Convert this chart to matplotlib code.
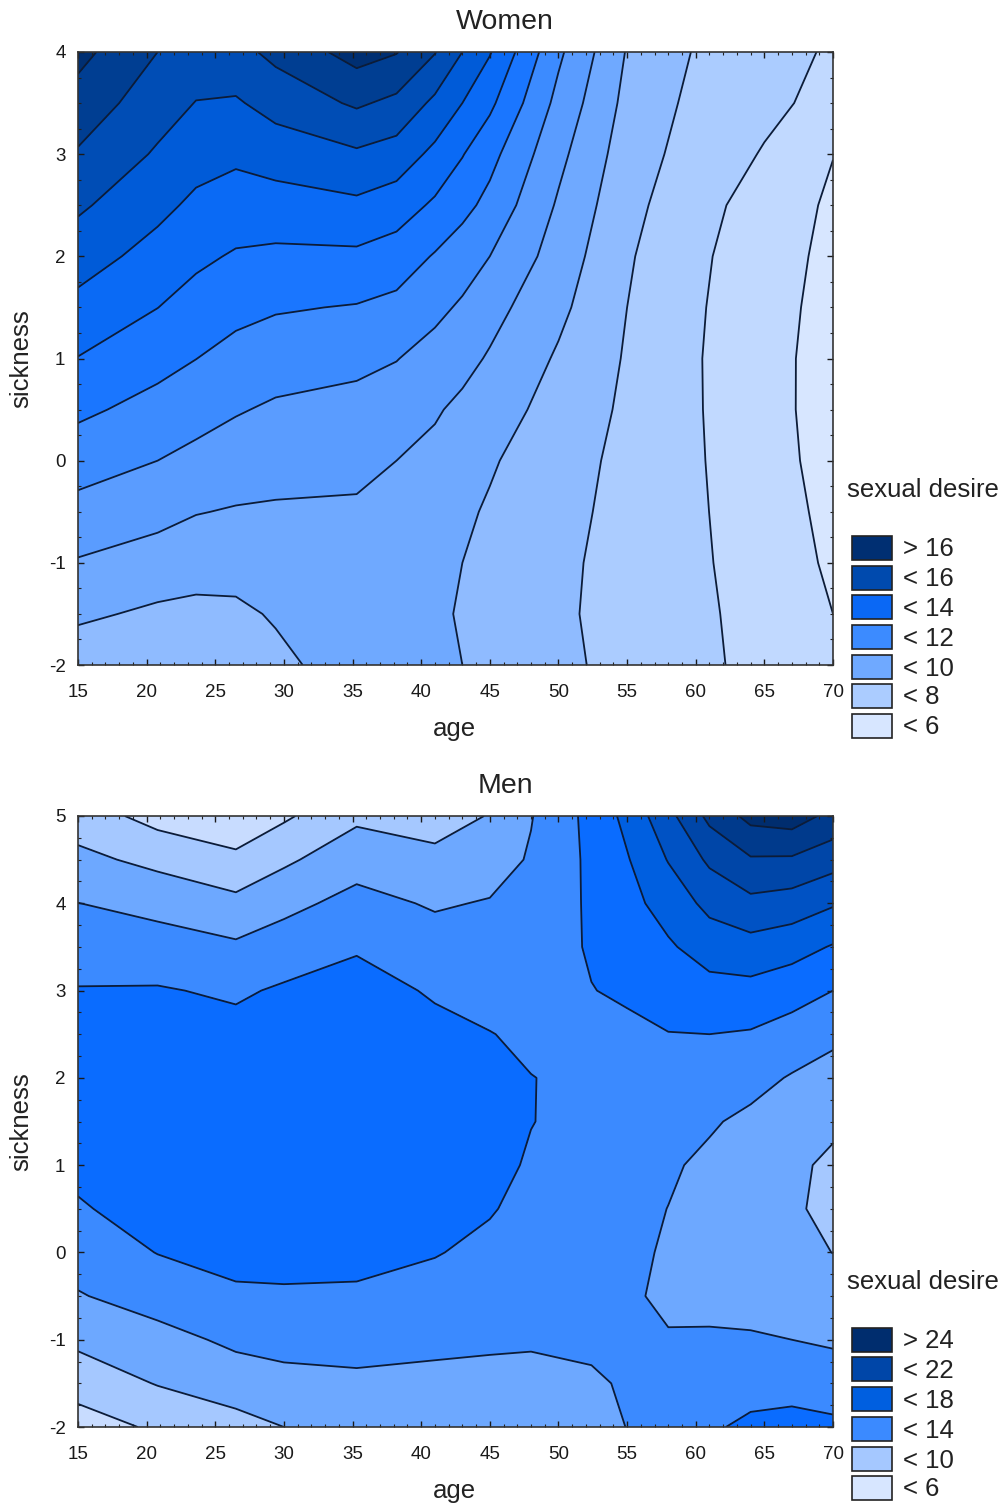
import matplotlib
matplotlib.use("Agg")
import matplotlib.pyplot as plt
import numpy as np
from matplotlib.patches import Rectangle
from matplotlib.ticker import MultipleLocator

plt.rcParams['font.family'] = ['Liberation Sans', 'DejaVu Sans']
plt.rcParams['axes.unicode_minus'] = False

# Women: desire surface (rows follow women_sickness)
women_age = [15, 20.8, 23.6, 26.5, 29.4, 35.3, 38.2, 41, 43, 45, 50, 55, 60, 65, 70]
women_sickness = [-2, -1.5, -1, -0.5, 0, 0.5, 1, 1.5, 2, 2.5, 3, 3.5, 4]
women_desire = [
    [7.4, 7.1, 7.1, 7.2, 7.75, 8.5, 8.5, 8.21, 8.0, 7.79, 7.21, 6.7, 6.23, 5.7, 5.2],
    [8.17, 7.83, 7.75, 7.8, 8.1, 8.55, 8.45, 8.1, 7.95, 7.71, 7.15, 6.66, 6.2, 5.64, 5.0],
    [8.92, 8.57, 8.41, 8.39, 8.5, 8.66, 8.55, 8.2, 8.0, 7.77, 7.19, 6.67, 6.16, 5.54, 4.85],
    [9.68, 9.3, 9.04, 8.93, 8.89, 8.9, 8.75, 8.45, 8.15, 7.9, 7.28, 6.72, 6.13, 5.46, 4.75],
    [10.44, 10.0, 9.73, 9.5, 9.36, 9.19, 9.0, 8.75, 8.45, 8.1, 7.41, 6.75, 6.1, 5.39, 4.64],
    [11.2, 10.66, 10.38, 10.08, 9.86, 9.68, 9.52, 9.1, 8.79, 8.45, 7.63, 6.83, 6.08, 5.32, 4.62],
    [11.97, 11.33, 11.01, 10.67, 10.45, 10.25, 10.03, 9.65, 9.3, 8.9, 7.88, 6.91, 6.07, 5.34, 4.6],
    [12.72, 12.01, 11.61, 11.28, 11.09, 10.94, 10.73, 10.23, 9.87, 9.35, 8.23, 7.0, 6.11, 5.39, 4.66],
    [13.44, 12.64, 12.2, 11.9, 11.8, 11.81, 11.54, 10.92, 10.45, 10.0, 8.56, 7.11, 6.18, 5.45, 4.75],
    [14.16, 13.26, 12.8, 12.54, 12.58, 12.8, 12.49, 11.84, 11.31, 10.7, 8.88, 7.3, 6.34, 5.58, 4.84],
    [14.9, 13.88, 13.38, 13.19, 13.45, 13.85, 13.57, 12.75, 12.05, 11.32, 9.26, 7.5, 6.58, 5.93, 5.02],
    [15.6, 14.44, 13.97, 13.89, 14.37, 15.14, 14.76, 13.78, 13.0, 12.21, 9.71, 7.72, 6.75, 6.23, 5.7],
    [16.3, 15.0, 14.54, 14.68, 15.26, 16.4, 16.05, 15.05, 14.0, 13.07, 10.19, 7.93, 6.93, 6.41, 5.87],
]
women_levels = [5, 6, 7, 8, 9, 10, 11, 12, 13, 14, 15, 16]
women_colors = ['#d7e6ff', '#c1d9ff', '#abccff', '#8fbbff', '#6fa9ff', '#5a9cff', '#3c8bff',
                '#1a76ff', '#0a6af5', '#005bd8', '#004db5', '#003e92', '#002f72']
women_legend_labels = ['> 16', '< 16', '< 14', '< 12', '< 10', '< 8', '< 6']
women_legend_colors = ['#002f72', '#004aae', '#0a68f5', '#3c8bff', '#6fa9ff', '#abccff', '#d7e6ff']

# Men
men_age = [15, 20.8, 26.5, 30, 35.3, 41, 45, 48, 52.4, 55, 58, 61, 64, 67, 70]
men_sickness = [-2, -1.5, -1, -0.5, 0, 0.5, 1, 1.5, 2, 2.5, 3, 3.5, 4, 4.5, 5]
men_desire = [
    [7.1, 8.3, 9.3, 10, 10.9, 11, 11.1, 11.1, 11.6, 12.02, 12.87, 13.7, 14.45, 14.6, 14.4],
    [8.8, 10.1, 10.97, 11.4, 11.65, 11.55, 11.55, 11.6, 11.75, 12.2, 12.8, 12.8, 13.15, 13.33, 13.0],
    [10.43, 11.3, 12.4, 12.65, 12.65, 12.4, 12.24, 12.15, 12.35, 12.6, 12.1, 12.3, 12.25, 12.0, 11.74],
    [11.86, 12.89, 13.8, 13.85, 13.8, 13.3, 12.87, 12.75, 12.5, 12.2, 11.75, 11.3, 11.1, 11.0, 10.87],
    [12.9, 14.05, 14.4, 14.4, 14.4, 14.1, 13.55, 13.2, 12.62, 12.28, 11.86, 11.39, 10.92, 10.45, 9.98],
    [13.88, 14.5, 14.9, 14.9, 14.9, 14.7, 14.14, 13.45, 12.88, 12.47, 11.98, 11.4, 10.84, 10.27, 9.5],
    [14.3, 14.8, 15.2, 15.2, 15.2, 15, 14.6, 13.78, 13.14, 12.72, 12.22, 11.65, 11.03, 10.41, 9.6],
    [14.5, 14.9, 15.25, 15.25, 15.3, 15, 14.6, 14.05, 13.38, 13.03, 12.6, 12.2, 11.6, 11.0, 10.4],
    [14.7, 15, 15.3, 15.3, 15.4, 15, 14.5, 14.03, 13.7, 13.6, 13.47, 13.15, 12.62, 11.85, 11.3],
    [14.5, 14.7, 14.6, 14.9, 15.2, 14.6, 14.05, 13.7, 13.7, 13.6, 13.95, 14.0, 13.83, 13.2, 12.4],
    [14.1, 14.15, 13.72, 14.25, 14.9, 13.75, 13.41, 13.3, 13.95, 14.27, 14.84, 15.33, 15.4, 14.8, 14.0],
    [13.07, 12.86, 12.31, 12.93, 13.77, 12.81, 12.77, 12.9, 14.2, 14.93, 15.75, 16.88, 17.27, 16.78, 15.85],
    [12.02, 11.38, 10.53, 11.47, 12.6, 11.8, 12.13, 12.55, 14.3, 15.37, 16.8, 18.55, 19.5, 19.1, 18.2],
    [10.5, 9.48, 8.43, 9.65, 11.23, 10.5, 11.1, 12.2, 14.4, 15.85, 18.1, 20.35, 21.8, 21.74, 20.8],
    [9.0, 7.3, 6.6, 7.7, 9.6, 9.15, 10.1, 11.9, 14.6, 16.55, 19.4, 22.5, 24.6, 25, 23.4],
]
men_levels = [8, 10, 12, 14, 16, 18, 20, 22, 24]
men_colors = ['#c8dcff', '#a5c8ff', '#6da8ff', '#3b8aff', '#0a6cff', '#005fe0', '#0052c4',
              '#0046a8', '#003a8c', '#002d6e']
men_legend_labels = ['> 24', '< 22', '< 18', '< 14', '< 10', '< 6']
men_legend_colors = ['#002d6e', '#0046a8', '#005fe0', '#3b8aff', '#a5c8ff', '#d7e6ff']

W, H = 1005, 1508
fig = plt.figure(figsize=(W / 100, H / 100), dpi=100)


def draw_panel(title, ages, sick, desire, levels, colors, box, title_y, ymax, leg_labels, leg_colors, leg_ys, leg_title_y):
    left, top, right, bottom = box
    ax = fig.add_axes([left / W, 1 - bottom / H, (right - left) / W, (bottom - top) / H])
    ax.contourf(ages, sick, desire, levels=levels, colors=colors, extend='both')
    ax.contour(ages, sick, desire, levels=levels, colors='#0c1c38', linewidths=1.3)
    ax.set_xlim(15, 70)
    ax.set_ylim(-2, ymax)
    ax.xaxis.set_major_locator(MultipleLocator(5))
    ax.xaxis.set_minor_locator(MultipleLocator(1))
    ax.yaxis.set_major_locator(MultipleLocator(1))
    ax.yaxis.set_minor_locator(MultipleLocator(0.25))
    ax.tick_params(which='major', direction='in', length=4, width=1, labelsize=13.5, colors='#1a1a1a', top=True, right=True)
    ax.tick_params(axis='x', which='major', pad=14)
    ax.tick_params(axis='y', which='major', pad=9)
    ax.tick_params(which='minor', direction='in', length=2, width=0.8, color='#222222', top=True, right=True)
    for s in ax.spines.values():
        s.set_linewidth(1.2)
        s.set_color('#333333')

    fig.text(505 / W, 1 - (title_y + 2) / H, title, fontsize=20.5, ha='center', va='center', color='#222222')
    fig.text(454 / W, 1 - (bottom + 64) / H, 'age', fontsize=18.5, ha='center', va='center', color='#222222')
    fig.text(21 / W, 1 - (top + bottom) / 2 / H, 'sickness', fontsize=18.5, rotation=90, ha='center', va='center', color='#222222')

    # legend
    fig.text(847 / W, 1 - (leg_title_y + 2) / H, 'sexual desire', fontsize=18.5, ha='left', va='center', color='#222222')
    for lab, col, y in zip(leg_labels, leg_colors, leg_ys):
        fig.add_artist(Rectangle((852 / W, 1 - (y + 12) / H), 40 / W, 24 / H, transform=fig.transFigure,
                                 facecolor=col, edgecolor='#222222', linewidth=1.2))
        fig.text(903 / W, 1 - (y + 1.5) / H, lab, fontsize=18.5, ha='left', va='center', color='#222222')


draw_panel('Women', women_age, women_sickness, women_desire, women_levels, women_colors,
           (78, 52, 833, 665), 20, 4, women_legend_labels, women_legend_colors,
           [548, 578, 607, 637, 667, 696, 726], 488)
draw_panel('Men', men_age, men_sickness, men_desire, men_levels, men_colors,
           (78, 816, 833, 1427), 784, 5, men_legend_labels, men_legend_colors,
           [1340, 1369, 1399, 1429, 1459, 1488], 1280)

plt.savefig('out.png', dpi=100)
